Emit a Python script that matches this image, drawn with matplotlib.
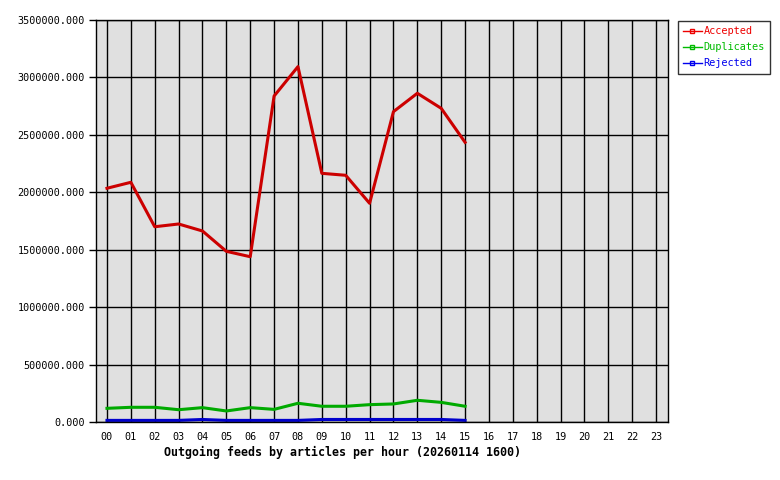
import matplotlib
matplotlib.use('Agg')
import matplotlib.pyplot as plt
from matplotlib.lines import Line2D

hours = ['00', '01', '02', '03', '04', '05', '06', '07', '08', '09', '10', '11',
         '12', '13', '14', '15', '16', '17', '18', '19', '20', '21', '22', '23']
# only hours 00..15 have data
accepted = [2035000, 2087000, 1700000, 1724000, 1663000, 1486000, 1439000, 2838000,
            3094000, 2165000, 2148000, 1904000, 2702000, 2862000, 2731000, 2435000]
duplicates = [119000, 128000, 128000, 107000, 125000, 96000, 125000, 110000,
              163000, 137000, 137000, 151000, 157000, 189000, 171000, 137000]
rejected = [14000, 14000, 14000, 14000, 22000, 14000, 14000, 14000,
            14000, 22000, 22000, 22000, 22000, 22000, 22000, 14000]
yticks = [0, 500000, 1000000, 1500000, 2000000, 2500000, 3000000, 3500000]

plt.rcParams['font.family'] = 'DejaVu Sans Mono'

fig = plt.figure(figsize=(7.8, 4.8), dpi=100)
ax = fig.add_axes([96/780, 58/480, 572/780, 402/480])
ax.set_facecolor('#e0e0e0')

x = list(range(len(accepted)))
ax.plot(x, accepted, color='#cc0000', lw=2.2, label='Accepted')
ax.plot(x, duplicates, color='#00aa00', lw=2.2, label='Duplicates')
ax.plot(x, rejected, color='#0000cc', lw=2.2, label='Rejected')

ax.set_xlim(-0.46, 23.5)
ax.set_ylim(0, 3500000)
ax.set_xticks(range(len(hours)))
ax.set_xticklabels(hours)
ax.set_yticks(yticks)
ax.set_yticklabels(['%.3f' % v for v in yticks])
ax.tick_params(axis='both', labelsize=7.3, colors='black')
ax.tick_params(axis='x', length=0, pad=7)
ax.tick_params(axis='y', length=5, width=1, pad=3)
ax.grid(True, color='black', lw=1)
ax.set_axisbelow(True)
for s in ax.spines.values():
    s.set_color('black')
    s.set_linewidth(1)

fig.text(343/780, 1 - 452/480, 'Outgoing feeds by articles per hour (20260114 1600)',
         ha='center', va='center', fontsize=8.4, fontweight='bold')

# legend with thin lines and little hollow squares
cols = ['#ee0000', '#00bb00', '#0000ee']
handles = [Line2D([], [], color=c, lw=1, marker='s', markersize=3, mfc='none', mew=1)
           for c in cols]
leg = fig.legend(handles, ['Accepted', 'Duplicates', 'Rejected'],
                 loc='upper left', bbox_to_anchor=(678/780, 1 - 21/480),
                 fontsize=7.4, frameon=True, fancybox=False, handlelength=1.8,
                 handletextpad=0.2, borderpad=0.5, labelspacing=0.6,
                 borderaxespad=0)
leg.get_frame().set_edgecolor('black')
leg.get_frame().set_linewidth(1)
for t, c in zip(leg.get_texts(), cols):
    t.set_color(c)

fig.savefig('out.png', dpi=100)
